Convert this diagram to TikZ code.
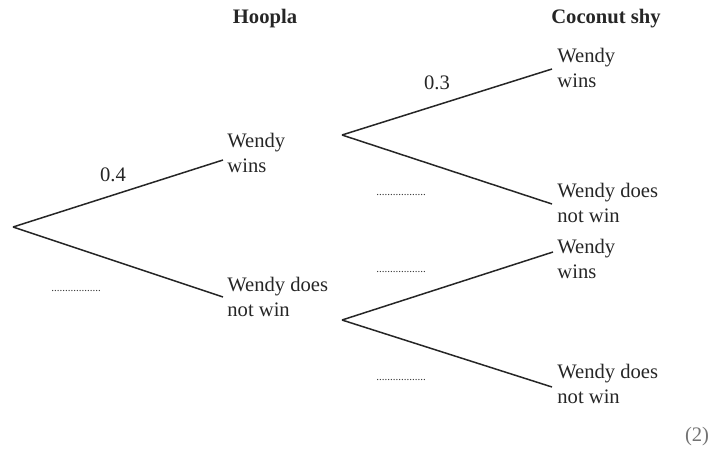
\documentclass[tikz,border=0pt]{standalone}
\usepackage{fontspec}
\setmainfont{Liberation Serif}
\begin{document}
\begin{tikzpicture}[x=0.5pt,y=-0.5pt,
  lbl/.style={inner sep=0pt,anchor=west,align=left,font=\fontsize{10.3}{12.4}\selectfont,text=black!85},
  head/.style={inner sep=0pt,font=\fontsize{10.3}{12.4}\selectfont\bfseries,text=black!85},
  prob/.style={inner sep=0pt,font=\fontsize{10.3}{12.4}\selectfont,text=black!85},
  blank/.style={inner sep=0pt,font=\fontsize{5.5}{6}\selectfont,text=black!80},
  branch/.style={line width=0.75pt,draw=black!85}]
\useasboundingbox (0,0) rectangle (717,451);

% column headings
\node[head] (hoopla) at (265,19) {Hoopla};
\node[head] (coconut) at (606,19) {Coconut shy};

% branch points
\coordinate (root) at (13,227);
\coordinate (bw) at (342,135);
\coordinate (bn) at (342,320);

% outcomes
\node[lbl] (hw) at (227,153) {Wendy\\wins};
\node[lbl] (hn) at (227,297) {Wendy does\\not win};
\node[lbl] (ww) at (557,68) {Wendy\\wins};
\node[lbl] (wn) at (557,203) {Wendy does\\not win};
\node[lbl] (nw) at (557,259) {Wendy\\wins};
\node[lbl] (nn) at (557,384) {Wendy does\\not win};

% branches
\draw[branch] (root) -- ([shift={(-4,7)}]hw.west);
\draw[branch] (root) -- ([shift={(-4,0)}]hn.west);
\draw[branch] (bw) -- ([shift={(-5,1)}]ww.west);
\draw[branch] (bw) -- ([shift={(-5,1)}]wn.west);
\draw[branch] (bn) -- ([shift={(-4,-7)}]nw.west);
\draw[branch] (bn) -- ([shift={(-5,3)}]nn.west);

% probabilities
\node[prob] (p1) at (113,175) {0.4};
\node[prob] (p2) at (437,83) {0.3};
\node[blank] (b1) at (76,291) {..................};
\node[blank] (b2) at (401,195) {..................};
\node[blank] (b3) at (401,272) {..................};
\node[blank] (b4) at (401,380) {..................};

% marks
\node[prob,text=black!55] (marks) at (697,437) {(2)};
\end{tikzpicture}
\end{document}
